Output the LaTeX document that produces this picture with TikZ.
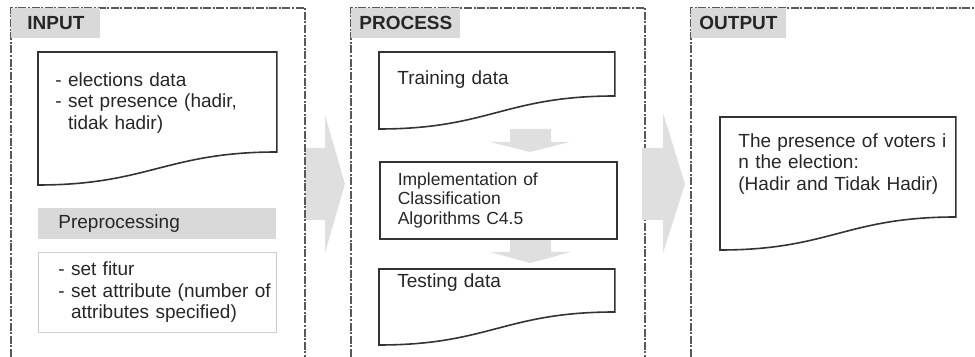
\documentclass[tikz,border=0pt]{standalone}
\usepackage{fontspec}
\setmainfont{Liberation Sans}
\usetikzlibrary{calc}

\tikzset{
  panel/.style={black!65, line width=0.75pt, dash pattern=on 4pt off 0.8pt on 1pt off 0.8pt},
  paneltitle/.style={anchor=north west, fill=gray!30, text=black!85, minimum height=15pt, inner xsep=4pt,
    font=\fontsize{9.5}{10}\selectfont\bfseries},
  doc/.style={anchor=north west, align=left, text width=99.5pt, inner xsep=9pt, inner ysep=9pt, text=black!85},
  docline/.style={draw=black!80, line width=0.8pt},
  bigarrow/.style={fill=gray!25},
}
\newcommand{\docoutline}[2]{%
  \draw[docline] (#1.north west) -- (#1.north east) -- ++(0,#2)
    .. controls +(-110,0) and +(110,0) .. ($(#1.north west)+(0,#2+33)$) -- cycle;}

\begin{document}
\begin{tikzpicture}[x=0.5pt, y=-0.5pt, font=\fontsize{9.5}{10.75}\selectfont]
\useasboundingbox (0,0) rectangle (975,357);

% big arrow input -> process
\fill[bigarrow] (305,148) -- (325,148) -- (325,115) -- (345,184) -- (325,253) -- (325,220) -- (305,220) -- cycle;

% the three panels
\draw[panel] (11,357) -- (11,8) -- (305,8) -- (305,357);
\draw[panel] (351,357) -- (351,8) -- (645,8) -- (645,357);
\draw[panel] (691,357) -- (691,8) -- (975,8);

% big arrow process -> output
\fill[bigarrow] (642,148) -- (663,148) -- (663,113) -- (685,184) -- (663,253) -- (663,220) -- (642,220) -- cycle;

\node[paneltitle, minimum width=44.5pt] (intitle) at (11,8) {INPUT};
\node[paneltitle, minimum width=54pt] (protitle) at (351,8) {PROCESS};
\node[paneltitle, minimum width=44pt] (outtitle) at (691,8) {OUTPUT};

% input
\node[doc, text width=102pt, inner xsep=8.5pt, inner ysep=10pt] (elect) at (38,52)
  {\mbox{- elections data}\\\mbox{- set presence (hadir,}\\\mbox{\phantom{- }tidak hadir)}};
\docoutline{elect}{100}
\node[anchor=north west, fill=gray!30, align=left, text width=99pt, inner xsep=10pt, minimum height=14.5pt,
  text=black!85] (prep) at (38,208) {Preprocessing};
\node[anchor=north west, draw=black!20, align=left, text width=99pt, inner xsep=10pt, minimum height=40pt,
  text=black!85] (attr) at (38,252)
  {\mbox{- set fitur}\\\mbox{- set attribute (number of}\\\mbox{\phantom{- }attributes specified)}};

% process
\node[doc] (train) at (379,52) {Training data};
\docoutline{train}{44}
\fill[bigarrow] (510,129) -- (551,129) -- (551,142) -- (570,142) -- (530,152) -- (490,142) -- (510,142) -- cycle;
\fill[bigarrow] (510,240) -- (551,240) -- (551,252) -- (571,252) -- (530,263) -- (490,252) -- (510,252) -- cycle;
\node[anchor=north west, draw=black!80, line width=0.8pt, align=left, text width=100.5pt, inner xsep=9pt,
  minimum height=38.5pt, text=black!85, font=\fontsize{8.75}{9.6}\selectfont] (algo) at (379,161)
  {Implementation of\\Classification\\Algorithms C4.5};
\node[doc, inner ysep=2pt] (test) at (379,269) {Testing data};
\docoutline{test}{43}

% output
\node[doc, inner ysep=8pt] (res) at (720,117)
  {\mbox{The presence of voters i}\\\mbox{n the election:}\\\mbox{(Hadir and Tidak Hadir)}};
\docoutline{res}{100}
\end{tikzpicture}
\end{document}
